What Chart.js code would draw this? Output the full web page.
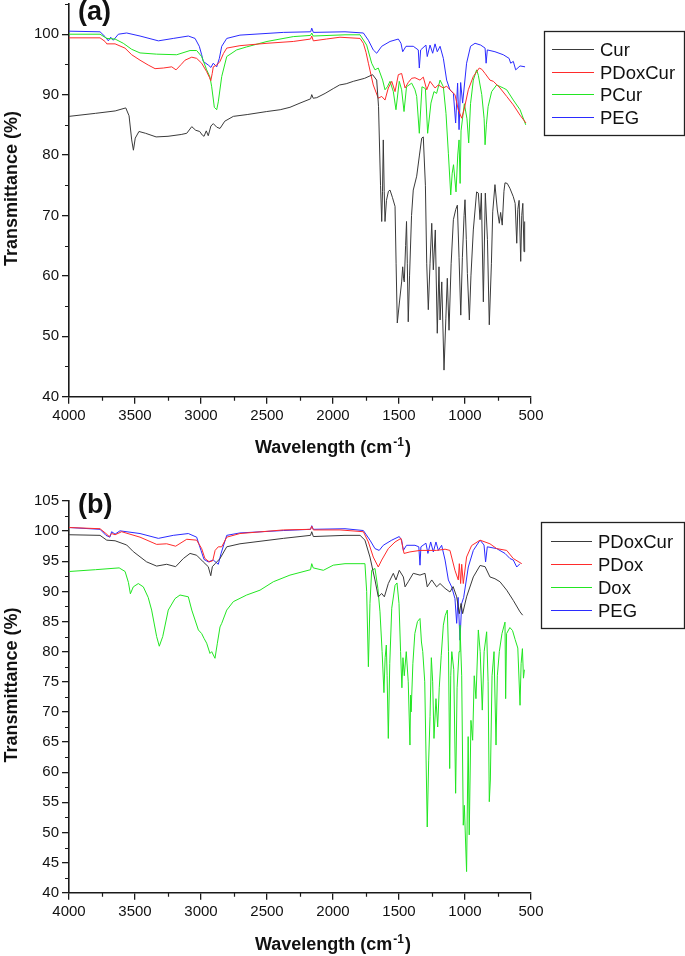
<!DOCTYPE html>
<html>
<head>
<meta charset="utf-8">
<title>FTIR spectra</title>
<script src="https://cdn.jsdelivr.net/npm/chart.js@4.4.1/dist/chart.umd.min.js"></script>
<style>
  html, body { margin: 0; padding: 0; background: #fff; }
  #page   { position: relative; width: 685px; height: 956px; }
  canvas  { position: absolute; left: 0; }
  #chartA { top: 0; }
  #chartB { top: 478px; }
</style>
</head>
<body>
<div id="page">
  <canvas id="chartA" width="685" height="478"></canvas>
  <canvas id="chartB" width="685" height="478"></canvas>
</div>
<script>
// ── Ejes ────────────────────────────────────────────────────────────────────
const xTicks  = [4000, 3500, 3000, 2500, 2000, 1500, 1000, 500];
const xMinor  = [3750, 3250, 2750, 2250, 1750, 1250, 750];
const yTicksA = [40, 50, 60, 70, 80, 90, 100];
const yMinorA = [45, 55, 65, 75, 85, 95, 105];
const yTicksB = [40, 45, 50, 55, 60, 65, 70, 75, 80, 85, 90, 95, 100, 105];
const yMinorB = [42.5, 47.5, 52.5, 57.5, 62.5, 67.5, 72.5, 77.5, 82.5, 87.5, 92.5, 97.5, 102.5];

// ── Panel (a): [número de onda, transmitancia] ──────────────────────────────
const curA = [[4000,86.4],[3800,86.9],[3650,87.3],[3570,87.8],[3545,86.5],[3525,82.5],[3512,80.8],[3498,82.8],
  [3470,83.9],[3420,83.6],[3340,83.0],[3250,83.1],[3150,83.4],[3108,83.6],[3070,84.7],[3040,84.1],[3010,83.9],
  [2990,83.3],[2977,83.1],[2960,84.0],[2945,83.2],[2925,84.8],[2907,85.2],[2880,84.6],[2856,84.4],[2820,85.6],
  [2755,86.4],[2650,86.7],[2502,87.2],[2400,87.5],[2326,87.9],[2250,88.6],[2170,89.3],[2161,90.0],[2150,89.4],
  [2123,89.5],[2060,90.2],[1998,91.0],[1950,91.6],[1900,91.8],[1846,92.2],[1760,92.7],[1700,93.3],[1669,92.4],
  [1655,88.0],[1640,75.0],[1631,69.0],[1625,74.0],[1619,82.5],[1612,74.0],[1606,69.0],[1595,72.5],[1580,74.0],
  [1568,74.2],[1550,73.0],[1530,71.5],[1522,62.0],[1513,52.2],[1495,56.0],[1480,59.0],[1472,61.5],[1465,59.5],
  [1460,59.0],[1450,65.0],[1443,69.0],[1437,62.0],[1430,52.4],[1420,60.0],[1405,70.0],[1392,74.2],[1366,76.5],
  [1345,80.0],[1328,82.8],[1316,83.0],[1300,75.0],[1290,62.0],[1278,54.4],[1265,62.0],[1252,68.7],[1240,61.0],
  [1225,67.6],[1210,50.5],[1197,61.5],[1189,52.7],[1176,59.0],[1159,44.4],[1145,53.0],[1134,59.6],[1121,51.0],
  [1105,62.0],[1088,69.3],[1070,71.0],[1058,71.7],[1045,63.0],[1032,53.5],[1020,63.0],[1007,70.0],[1000,72.6],
  [990,66.0],[982,60.4],[967,52.7],[955,60.0],[937,67.6],[912,73.9],[899,73.7],[886,69.3],[876,73.7],[861,55.7],
  [846,73.7],[830,66.0],[816,51.9],[800,62.0],[790,70.6],[773,75.1],[755,70.9],[740,68.7],[730,70.5],[718,68.4],
  [705,74.0],[697,75.4],[680,75.3],[660,74.5],[634,73.1],[620,72.0],[608,65.4],[600,71.0],[590,72.5],[578,62.4],
  [570,70.0],[562,72.0],[553,64.0],[548,69.0]];

const pdoxcurA = [[4000,99.4],[3765,99.4],[3727,98.8],[3714,98.4],[3651,98.4],[3576,97.7],[3525,96.6],[3462,95.7],
  [3400,94.9],[3348,94.3],[3286,94.4],[3222,94.6],[3189,94.1],[3150,95.0],[3121,95.7],[3070,96.2],[3033,96.0],
  [2995,95.2],[2957,93.8],[2935,92.8],[2926,92.3],[2915,93.5],[2907,94.6],[2881,94.9],[2856,95.5],[2830,96.8],
  [2805,97.7],[2705,98.1],[2500,98.5],[2301,98.8],[2170,99.2],[2161,99.7],[2149,98.9],[2050,99.2],[1947,99.5],
  [1795,99.3],[1770,98.5],[1750,97.0],[1732,95.2],[1695,91.6],[1657,89.4],[1631,89.7],[1606,89.1],[1581,91.1],
  [1555,92.2],[1530,90.5],[1505,93.3],[1480,93.5],[1454,91.1],[1430,92.0],[1404,92.7],[1379,92.8],[1341,92.4],
  [1316,92.9],[1290,90.8],[1265,92.2],[1227,91.1],[1202,91.6],[1164,91.1],[1139,91.4],[1114,90.8],[1076,90.0],
  [1051,87.5],[1025,86.1],[1007,87.5],[975,90.8],[937,93.0],[892,94.4],[873,94.2],[848,93.5],[811,92.4],
  [785,92.2],[735,91.1],[684,89.7],[634,88.3],[583,86.6],[538,85.3]];

const pcurA = [[4000,100.0],[3765,100.0],[3714,99.3],[3651,99.2],[3589,98.5],[3525,97.5],[3462,96.9],[3336,96.7],
  [3184,96.6],[3083,97.3],[3033,97.3],[2995,96.3],[2957,94.1],[2932,92.9],[2919,91.3],[2899,87.9],[2881,87.5],
  [2869,88.8],[2843,93.0],[2805,96.3],[2730,97.4],[2654,97.9],[2500,98.8],[2301,99.6],[2170,99.8],[2161,100.2],
  [2150,99.7],[1909,99.9],[1795,99.9],[1745,98.2],[1707,95.2],[1682,94.1],[1657,94.4],[1624,92.4],[1606,90.8],
  [1588,91.3],[1568,92.2],[1543,90.5],[1523,87.5],[1498,92.2],[1480,90.8],[1462,87.2],[1443,91.3],[1404,91.9],
  [1379,90.8],[1366,89.7],[1346,83.6],[1326,91.3],[1300,91.0],[1283,83.6],[1258,88.6],[1235,90.5],[1215,90.2],
  [1189,92.4],[1164,91.3],[1144,86.9],[1126,80.3],[1108,73.4],[1097,77.0],[1087,78.4],[1068,73.9],[1055,80.0],
  [1045,82.5],[1037,75.3],[1030,84.0],[1005,88.5],[985,86.0],[972,82.0],[958,88.5],[937,92.4],[912,94.1],
  [899,93.2],[873,90.0],[855,86.0],[848,81.7],[838,85.0],[825,88.0],[798,90.5],[760,91.6],[710,91.1],
  [684,90.8],[634,89.1],[583,87.5],[540,85.0]];

const pegA = [[4000,100.5],[3765,100.4],[3727,99.6],[3702,98.9],[3684,99.5],[3664,99.0],[3626,100.0],[3563,100.2],
  [3462,99.7],[3323,98.9],[3210,99.3],[3096,99.7],[3045,99.3],[3013,98.0],[2995,96.6],[2983,95.5],[2945,94.9],
  [2925,94.5],[2907,95.2],[2881,94.6],[2861,96.0],[2843,98.0],[2805,99.3],[2705,99.85],[2376,100.3],[2169,100.4],
  [2161,101.0],[2149,100.3],[1909,100.4],[1770,100.2],[1732,99.0],[1695,97.4],[1669,96.85],[1631,98.0],[1568,98.8],
  [1505,99.2],[1485,98.5],[1472,97.1],[1447,98.0],[1392,98.0],[1354,97.4],[1346,94.4],[1336,97.4],[1296,98.2],
  [1286,96.3],[1265,98.2],[1245,96.85],[1227,98.4],[1210,97.1],[1189,98.0],[1164,96.0],[1139,92.4],[1114,90.8],
  [1088,90.2],[1071,85.3],[1056,91.9],[1045,84.2],[1033,92.0],[1018,88.6],[988,95.2],[958,98.0],[924,98.5],
  [881,98.2],[848,97.7],[840,95.2],[831,97.4],[773,97.1],[710,96.6],[666,96.0],[654,95.2],[634,95.5],[616,94.1],
  [583,94.75],[545,94.6]];

// ── Panel (b): [número de onda, transmitancia] ──────────────────────────────
const pdoxcurB = [[4000,99.4],[3765,99.3],[3714,98.5],[3651,98.4],[3563,97.7],[3513,96.6],[3412,94.9],[3336,94.2],
  [3260,94.5],[3192,94.1],[3134,95.45],[3083,96.3],[3033,96.0],[2983,94.9],[2945,94.1],[2926,92.6],[2914,94.1],
  [2893,94.6],[2856,95.45],[2805,97.4],[2705,97.9],[2376,98.8],[2170,99.3],[2161,99.9],[2149,99.1],[1909,99.3],
  [1795,99.3],[1758,98.5],[1720,95.7],[1682,91.9],[1657,89.1],[1631,89.65],[1611,89.1],[1581,91.3],[1543,93.0],
  [1523,91.9],[1498,93.5],[1467,92.4],[1454,90.75],[1430,91.6],[1392,93.0],[1341,92.7],[1303,93.0],[1286,90.75],
  [1252,91.9],[1215,90.75],[1189,91.3],[1151,90.5],[1114,89.9],[1090,90.8],[1063,89.1],[1043,86.3],[1030,88.0],
  [1018,86.3],[988,89.1],[937,92.4],[886,94.3],[848,94.1],[811,92.4],[773,92.1],[735,91.6],[684,90.2],
  [634,88.5],[583,86.6],[563,86.05]];

const pdoxB = [[4000,100.6],[3765,100.4],[3720,99.6],[3695,99.1],[3677,99.6],[3651,99.4],[3601,99.9],[3462,99.0],
  [3336,97.8],[3260,97.9],[3192,97.5],[3108,98.65],[3033,98.5],[2995,97.1],[2970,95.45],[2937,94.9],[2911,95.1],
  [2893,96.8],[2869,97.4],[2843,97.4],[2805,99.0],[2705,99.6],[2376,100.2],[2170,100.3],[2161,100.8],[2149,100.2],
  [1947,100.2],[1770,99.9],[1732,98.2],[1695,95.7],[1657,94.05],[1631,95.2],[1581,97.1],[1530,98.2],[1485,98.8],
  [1462,96.3],[1417,96.55],[1341,96.8],[1215,96.8],[1151,97.0],[1114,96.8],[1076,93.5],[1051,91.9],[1043,94.6],
  [1033,91.3],[1025,94.5],[1013,91.3],[988,95.7],[950,97.6],[886,98.5],[811,97.9],[760,97.1],[684,96.8],
  [634,95.45],[570,94.6]];

const doxB = [[4000,93.3],[3800,93.6],[3620,93.9],[3575,93.3],[3550,91.5],[3535,89.6],[3513,90.75],[3475,91.3],
  [3437,90.75],[3400,89.0],[3374,86.9],[3336,82.5],[3316,80.9],[3290,82.5],[3248,86.9],[3197,88.8],[3159,89.4],
  [3096,89.1],[3070,86.9],[3020,83.6],[2995,83.0],[2977,82.2],[2957,81.4],[2932,79.7],[2919,80.0],[2894,78.9],
  [2876,81.4],[2856,84.1],[2843,84.7],[2805,86.9],[2755,88.3],[2654,89.4],[2553,90.2],[2452,91.6],[2326,92.7],
  [2170,93.6],[2161,94.6],[2150,93.9],[2073,93.5],[1998,94.35],[1909,94.6],[1795,94.6],[1758,94.6],[1745,90.0],
  [1732,77.5],[1720,88.0],[1707,93.5],[1682,93.8],[1660,90.5],[1644,86.6],[1628,80.0],[1614,73.2],[1605,79.0],
  [1596,81.1],[1590,76.0],[1581,65.6],[1570,78.0],[1555,87.2],[1530,91.0],[1515,91.4],[1500,88.0],[1488,80.0],
  [1478,74.0],[1470,79.0],[1460,76.0],[1445,80.0],[1430,75.0],[1417,64.5],[1412,72.8],[1408,70.0],[1395,78.0],
  [1380,83.0],[1360,85.0],[1341,85.5],[1330,81.6],[1320,80.0],[1305,75.0],[1286,50.9],[1275,62.0],[1265,69.2],
  [1255,79.0],[1245,75.0],[1235,65.6],[1220,72.2],[1207,67.5],[1195,74.0],[1180,79.4],[1164,84.4],[1150,86.0],
  [1134,86.9],[1125,80.0],[1116,60.6],[1108,76.0],[1100,80.0],[1085,77.0],[1071,56.5],[1060,74.0],[1045,80.0],
  [1038,84.4],[1025,76.0],[1013,51.2],[1005,54.5],[988,43.5],[976,65.9],[968,49.6],[955,68.6],[942,65.3],
  [930,76.0],[917,72.2],[899,83.6],[885,80.0],[869,70.3],[855,80.0],[836,83.3],[825,75.0],[816,55.1],[808,58.7],
  [795,76.0],[780,80.0],[765,64.5],[755,76.0],[740,80.0],[720,83.0],[697,84.9],[692,72.2],[685,83.0],[660,84.0],
  [640,83.5],[620,82.0],[600,80.6],[583,71.1],[575,78.0],[565,80.5],[557,75.6],[550,77.0]];

const pegB = [[4000,100.6],[3765,100.3],[3720,99.3],[3690,99.0],[3677,99.9],[3651,99.5],[3614,100.05],[3462,99.6],
  [3323,98.8],[3210,99.3],[3096,99.6],[3033,99.0],[3000,96.8],[2977,95.3],[2945,94.9],[2907,95.2],[2869,94.5],
  [2848,96.3],[2805,99.3],[2705,99.7],[2376,100.1],[2170,100.3],[2161,100.9],[2149,100.3],[1909,100.4],
  [1770,100.1],[1720,98.5],[1682,97.1],[1650,96.8],[1619,97.65],[1555,98.5],[1498,99.1],[1480,98.5],[1467,96.8],
  [1443,97.65],[1379,97.65],[1350,97.4],[1341,94.35],[1334,97.4],[1296,98.0],[1281,96.3],[1260,98.2],[1240,96.55],
  [1220,98.2],[1202,96.8],[1177,97.65],[1151,95.2],[1126,91.9],[1101,90.75],[1076,88.8],[1063,84.7],[1052,89.0],
  [1038,81.9],[1025,88.0],[1010,89.0],[975,94.05],[937,96.8],[886,98.5],[856,97.7],[844,94.9],[831,97.4],
  [760,97.1],[697,96.3],[659,95.45],[634,95.2],[608,94.05],[583,94.6]];

// ── Estilo ──────────────────────────────────────────────────────────────────
const FONT   = '"Liberation Sans", Arial, sans-serif';
const AXIS   = '#1a1a1a';
const BLACK  = '#3a3a3a';
const RED    = '#ff2b2b';
const GREEN  = '#22e622';
const BLUE   = '#2b2bff';

const panels = {
    chartA: {
        tag: '(a)', tagY: 19.5, yMin: 40, yMax: 105, yTicks: yTicksA, yMinor: yMinorA,
        pad: { top: 4, bottom: 51.3 },
        yTitleY: 188.5, xTitleY: 453,
        legend: { x: 544, y: 31, w: 140, h: 104, first: 18, step: 22.7, l0: 8, l1: 50, tx: 56 },
        series: [
            { label: 'Cur',     data: curA,     color: BLACK },
            { label: 'PDoxCur', data: pdoxcurA, color: RED },
            { label: 'PCur',    data: pcurA,    color: GREEN },
            { label: 'PEG',     data: pegA,     color: BLUE }
        ]
    },
    chartB: {
        tag: '(b)', tagY: 34.5, yMin: 40, yMax: 105, yTicks: yTicksB, yMinor: yMinorB,
        pad: { top: 23, bottom: 33.3 },
        yTitleY: 207, xTitleY: 471.5,
        legend: { x: 541, y: 44, w: 143, h: 106, first: 19, step: 23, l0: 10, l1: 51, tx: 57 },
        series: [
            { label: 'PDoxCur', data: pdoxcurB, color: BLACK },
            { label: 'PDox',    data: pdoxB,    color: RED },
            { label: 'Dox',     data: doxB,     color: GREEN },
            { label: 'PEG',     data: pegB,     color: BLUE }
        ]
    }
};

// ═════════════════════════════════════════════════════════════════════════════
// DECORACIÓN: ticks menores, leyenda, títulos de ejes, etiqueta del panel
// ═════════════════════════════════════════════════════════════════════════════
function decorPlugin(p) {
    return {
        id: 'decor',
        afterDraw(chart) {
            const ctx  = chart.ctx;
            const area = chart.chartArea;
            const xs   = chart.scales.x;
            const ys   = chart.scales.y;

            ctx.save();

            // ticks menores
            ctx.strokeStyle = AXIS;
            ctx.lineWidth   = 1.2;
            ctx.beginPath();
            xMinor.forEach(v => {
                const px = Math.round(xs.getPixelForValue(v)) + 0.5;
                ctx.moveTo(px, area.bottom);
                ctx.lineTo(px, area.bottom + 4);
            });
            p.yMinor.forEach(v => {
                const py = Math.round(ys.getPixelForValue(v)) + 0.5;
                ctx.moveTo(area.left, py);
                ctx.lineTo(area.left - 4, py);
            });
            ctx.stroke();

            // leyenda con marco
            const lg = p.legend;
            ctx.lineWidth   = 1.3;
            ctx.strokeStyle = '#222';
            ctx.strokeRect(lg.x + 0.5, lg.y + 0.5, lg.w, lg.h);
            ctx.font         = `18.5px ${FONT}`;
            ctx.fillStyle    = '#111';
            ctx.textAlign    = 'left';
            ctx.textBaseline = 'alphabetic';
            chart.data.datasets.forEach((ds, i) => {
                const cy = Math.round(lg.y + lg.first + i * lg.step) + 0.5;
                ctx.strokeStyle = ds.borderColor;
                ctx.lineWidth   = 1;
                ctx.beginPath();
                ctx.moveTo(lg.x + lg.l0, cy);
                ctx.lineTo(lg.x + lg.l1, cy);
                ctx.stroke();
                ctx.fillText(ds.label, lg.x + lg.tx, cy + 6.6);
            });

            // etiqueta del panel
            ctx.font = `bold 27px ${FONT}`;
            ctx.fillStyle = '#111';
            ctx.fillText(p.tag, 78, p.tagY);

            // título eje Y
            ctx.save();
            ctx.translate(16.5, p.yTitleY);
            ctx.rotate(-Math.PI / 2);
            ctx.font = `bold 18px ${FONT}`;
            ctx.textAlign = 'center';
            ctx.fillText('Transmittance (%)', 0, 0);
            ctx.restore();

            // título eje X con superíndice
            ctx.font = `bold 18px ${FONT}`;
            ctx.textAlign = 'left';
            const part1 = 'Wavelength (cm';
            const w1 = ctx.measureText(part1).width;
            ctx.fillText(part1, 255, p.xTitleY);
            ctx.font = `bold 12px ${FONT}`;
            const sup = '-1';
            const ws = ctx.measureText(sup).width;
            ctx.fillText(sup, 255 + w1 + 1, p.xTitleY - 7);
            ctx.font = `bold 18px ${FONT}`;
            ctx.fillText(')', 255 + w1 + ws + 2, p.xTitleY);

            ctx.restore();
        }
    };
}

// ═════════════════════════════════════════════════════════════════════════════
// GRÁFICAS
// ═════════════════════════════════════════════════════════════════════════════
function makeChart(id) {
    const p = panels[id];
    const gridOpts = {
        display: true, drawOnChartArea: false, drawTicks: true,
        tickLength: 7, color: AXIS, tickColor: AXIS, lineWidth: 1.3, tickWidth: 1.3
    };
    const tickFont = { family: FONT, size: 15 };

    return new Chart(document.getElementById(id), {
        type: 'line',
        data: {
            datasets: p.series.map(s => ({
                label: s.label,
                data: s.data,
                borderColor: s.color,
                borderWidth: 1,
                pointRadius: 0,
                tension: 0,
                fill: false
            }))
        },
        options: {
            responsive: false,
            animation: false,
            events: [],
            layout: { padding: { left: 0, right: 154, top: p.pad.top, bottom: p.pad.bottom } },
            plugins: { legend: { display: false }, tooltip: { enabled: false } },
            scales: {
                x: {
                    type: 'linear', reverse: true, min: 500, max: 4000,
                    afterBuildTicks: s => { s.ticks = xTicks.map(v => ({ value: v })); },
                    afterFit: s => { s.height = 30; s.paddingLeft = 0; s.paddingRight = 0; },
                    border: { display: true, color: AXIS, width: 1.6 },
                    grid: gridOpts,
                    ticks: { color: '#111', font: tickFont, padding: 3, maxRotation: 0, autoSkip: false,
                             callback: v => String(v) }
                },
                y: {
                    type: 'linear', min: p.yMin, max: p.yMax,
                    afterBuildTicks: s => { s.ticks = p.yTicks.map(v => ({ value: v })); },
                    afterFit: s => { s.width = 69; s.paddingTop = 0; s.paddingBottom = 0; },
                    border: { display: true, color: AXIS, width: 1.6 },
                    grid: gridOpts,
                    ticks: { color: '#111', font: tickFont, padding: 3, autoSkip: false,
                             callback: v => String(v) }
                }
            }
        },
        plugins: [decorPlugin(p)]
    });
}

makeChart('chartA');
makeChart('chartB');
</script>
</body>
</html>
